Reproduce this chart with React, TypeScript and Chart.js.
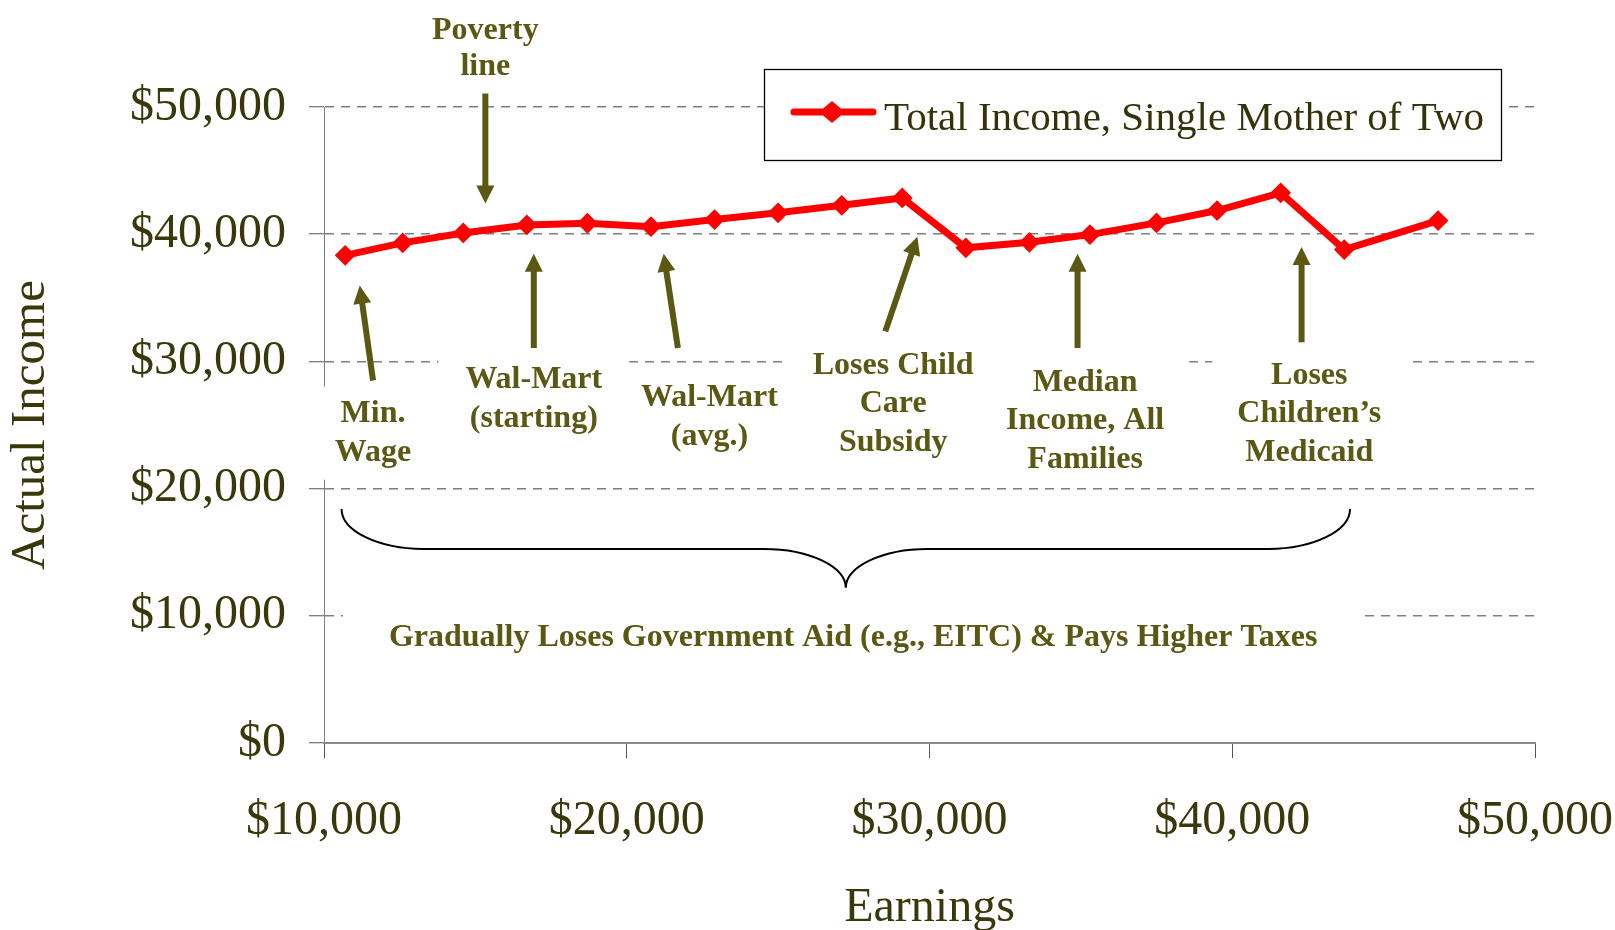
import React, { useEffect, useRef } from "react";
import { Chart, registerables } from "chart.js";

Chart.register(...registerables);

// ---------- data ----------
const earnings = [10700, 12600, 14600, 16700, 18700, 20800, 22900, 25000, 27100, 29100, 31200, 33300, 35300, 37500, 39500, 41600, 43700, 46800];
const totalIncome = [38340, 39320, 40100, 40730, 40860, 40590, 41150, 41680, 42270, 42850, 38930, 39360, 39970, 40890, 41860, 43250, 38790, 41070];
const seriesLabel = "Total Income, Single Mother of Two";
const xTicks = [10000, 20000, 30000, 40000, 50000];
const yTicks = [0, 10000, 20000, 30000, 40000, 50000];
const xTitle = "Earnings";
const yTitle = "Actual Income";

// callout texts (anchor in data units: earnings, income)
const calloutLines = [
  ["Poverty", "line"],
  ["Min.", "Wage"],
  ["Wal-Mart", "(starting)"],
  ["Wal-Mart", "(avg.)"],
  ["Loses Child", "Care", "Subsidy"],
  ["Median", "Income, All", "Families"],
  ["Loses", "Children\u2019s", "Medicaid"],
  ["Gradually Loses Government Aid (e.g., EITC) & Pays Higher Taxes"],
];
const calloutX = [15330, 11620, 16930, 22730, 28800, 35140, 42545, 27480];
const calloutY = [56030, 25870, 28520, 27130, 29670, 28360, 28890, 8300];
const calloutBox = [false, true, true, true, true, true, true, true];
const calloutPad = [0, 25, 27, 25, 25, 25, 25, 46];

// arrows: tail -> tip, data units
const arrowFromX = [15330, 11620, 16930, 21690, 28540, 34890, 42290];
const arrowFromY = [51060, 28500, 31050, 31050, 32360, 31050, 31500];
const arrowToX = [15330, 11180, 16930, 21220, 29600, 34890, 42290];
const arrowToY = [42410, 35960, 38470, 38470, 39790, 38470, 39000];

// brace (data units)
const braceFromX = 10580;
const braceToX = 43890;
const braceTopY = 18400;
const braceMidY = 15260;
const braceTipY = 12200;
const braceBend = 2700;

// ---------- style ----------
const SERIF = "'Liberation Serif', 'Times New Roman', serif";
const TICK_COLOR = "#38380a";
const NOTE_COLOR = "#5a5812";
const LINE_H = 38.5;

const fmt = (v: number) => "$" + Number(v).toLocaleString("en-US");

function drawArrow(ctx: CanvasRenderingContext2D, x1: number, y1: number, x2: number, y2: number) {
  const dx = x2 - x1, dy = y2 - y1;
  const len = Math.hypot(dx, dy);
  const ux = dx / len, uy = dy / len;
  const hl = 18, hw = 9;
  const bx = x2 - ux * hl, by = y2 - uy * hl;
  ctx.lineWidth = 6;
  ctx.lineCap = "butt";
  ctx.beginPath();
  ctx.moveTo(x1, y1);
  ctx.lineTo(bx + ux, by + uy);
  ctx.stroke();
  ctx.beginPath();
  ctx.moveTo(x2, y2);
  ctx.lineTo(bx - uy * hw, by + ux * hw);
  ctx.lineTo(bx + uy * hw, by - ux * hw);
  ctx.closePath();
  ctx.fill();
}

const annotPlugin = {
  id: "annotations",
  beforeDatasetsDraw(chart: any) {
    const { ctx, scales, chartArea } = chart;
    const xs = scales.x, ys = scales.y;
    ctx.save();
    ctx.font = `bold 32px ${SERIF}`;
    ctx.fillStyle = "#ffffff";
    calloutLines.forEach((lines, i) => {
      if (!calloutBox[i]) return;
      const cx = xs.getPixelForValue(calloutX[i]);
      const cy = ys.getPixelForValue(calloutY[i]);
      const w = Math.max(...lines.map((l) => ctx.measureText(l).width));
      const pad = calloutPad[i];
      ctx.fillRect(cx - w / 2 - pad, cy - LINE_H / 2 - 8, w + 2 * pad, lines.length * LINE_H + 16);
    });
    // legend box
    const lx = chartArea.right - 771;
    const ly = chartArea.top - 38;
    ctx.fillRect(lx, ly, 737, 91);
    ctx.strokeStyle = "#000000";
    ctx.lineWidth = 1.3;
    ctx.strokeRect(lx + 0.5, ly + 0.5, 737, 91);
    ctx.restore();
  },
  afterDatasetsDraw(chart: any) {
    const { ctx, scales, chartArea } = chart;
    const xs = scales.x, ys = scales.y;
    ctx.save();
    // callout text
    ctx.font = `bold 32px ${SERIF}`;
    ctx.fillStyle = NOTE_COLOR;
    ctx.textAlign = "center";
    ctx.textBaseline = "middle";
    calloutLines.forEach((lines, i) => {
      const cx = xs.getPixelForValue(calloutX[i]);
      const cy = ys.getPixelForValue(calloutY[i]);
      const lh = i === 0 ? 36.7 : LINE_H;
      lines.forEach((l, j) => ctx.fillText(l, cx, cy + j * lh));
    });
    // arrows
    ctx.strokeStyle = NOTE_COLOR;
    arrowFromX.forEach((_, i) => {
      drawArrow(
        ctx,
        xs.getPixelForValue(arrowFromX[i]),
        ys.getPixelForValue(arrowFromY[i]),
        xs.getPixelForValue(arrowToX[i]),
        ys.getPixelForValue(arrowToY[i])
      );
    });
    // brace
    const x0 = xs.getPixelForValue(braceFromX);
    const x1 = xs.getPixelForValue(braceToX);
    const xm = (x0 + x1) / 2;
    const bend = xs.getPixelForValue(10000 + braceBend) - xs.getPixelForValue(10000);
    const yT = ys.getPixelForValue(braceTopY);
    const yM = ys.getPixelForValue(braceMidY);
    const yP = ys.getPixelForValue(braceTipY);
    const k = 0.55;
    ctx.strokeStyle = "#000000";
    ctx.lineWidth = 2;
    ctx.beginPath();
    ctx.moveTo(x0, yT);
    ctx.bezierCurveTo(x0, yT + (yM - yT) * k, x0 + bend - bend * k, yM, x0 + bend, yM);
    ctx.lineTo(xm - bend, yM);
    ctx.bezierCurveTo(xm - bend + bend * k, yM, xm, yP - (yP - yM) * k, xm, yP);
    ctx.bezierCurveTo(xm, yP - (yP - yM) * k, xm + bend - bend * k, yM, xm + bend, yM);
    ctx.lineTo(x1 - bend, yM);
    ctx.bezierCurveTo(x1 - bend + bend * k, yM, x1, yT + (yM - yT) * k, x1, yT);
    ctx.stroke();
    // legend content
    const lx = chartArea.right - 771;
    const ly = chartArea.top - 38;
    const sy = ly + 43;
    ctx.strokeStyle = "#ff0000";
    ctx.fillStyle = "#ff0000";
    ctx.lineWidth = 7;
    ctx.lineCap = "round";
    ctx.beginPath();
    ctx.moveTo(lx + 30, sy);
    ctx.lineTo(lx + 109, sy);
    ctx.stroke();
    const dcx = lx + 68;
    ctx.beginPath();
    ctx.moveTo(dcx - 13, sy);
    ctx.lineTo(dcx, sy - 11);
    ctx.lineTo(dcx + 13, sy);
    ctx.lineTo(dcx, sy + 11);
    ctx.closePath();
    ctx.fill();
    ctx.font = `41px ${SERIF}`;
    ctx.fillStyle = "#33330a";
    ctx.textAlign = "left";
    ctx.textBaseline = "alphabetic";
    ctx.fillText(chart.data.datasets[0].label, lx + 120, ly + 61);
    ctx.restore();
  },
};

export default function App() {
  const ref = useRef<HTMLCanvasElement | null>(null);
  useEffect(() => {
    document.body.style.margin = "0";
    const canvas = ref.current;
    if (!canvas) return;
    const chart = new Chart(canvas, {
      type: "line",
      data: {
        datasets: [
          {
            label: seriesLabel,
            data: earnings.map((e, i) => ({ x: e, y: totalIncome[i] })),
            borderColor: "#ff0000",
            backgroundColor: "#ff0000",
            borderWidth: 7,
            pointStyle: "rectRot",
            pointRadius: 9,
            pointBorderWidth: 2,
            pointBackgroundColor: "#ff0000",
            pointBorderColor: "#ff0000",
            tension: 0,
          } as any,
        ],
      },
      options: {
        responsive: false,
        animation: false,
        events: [],
        layout: { padding: { top: 107, right: 80, left: 0, bottom: 0 } },
        plugins: { legend: { display: false }, tooltip: { enabled: false } },
        scales: {
          x: {
            type: "linear",
            min: 10000,
            max: 50000,
            afterBuildTicks: (s: any) => {
              s.ticks = xTicks.map((v) => ({ value: v }));
            },
            afterFit: (s: any) => {
              s.height = 187;
            },
            grid: { drawOnChartArea: false, drawTicks: true, tickLength: 15, color: "#555555", lineWidth: 1 },
            border: { display: true, color: "#8a8a8a", width: 2 },
            ticks: {
              callback: (v: any) => fmt(v),
              font: { family: SERIF, size: 48, lineHeight: 2.61 },
              color: TICK_COLOR,
              padding: 1,
              maxRotation: 0,
              autoSkip: false,
            },
            title: {
              display: true,
              text: xTitle,
              font: { family: SERIF, size: 48, lineHeight: 1 },
              color: TICK_COLOR,
              padding: { top: 0, bottom: -2 },
            },
          },
          y: {
            type: "linear",
            min: 0,
            max: 50000,
            afterBuildTicks: (s: any) => {
              s.ticks = yTicks.map((v) => ({ value: v }));
            },
            afterFit: (s: any) => {
              s.width = 324;
            },
            grid: {
              color: (c: any) => (c.tick && c.tick.value === 0 ? "rgba(0,0,0,0)" : "#7f7f7f"),
              lineWidth: 1.5,
              tickLength: 15,
              tickColor: "#555555",
              tickWidth: 1,
            },
            border: { display: true, color: "#808080", width: 1, dash: [9, 7] },
            ticks: {
              callback: (v: any) => fmt(v),
              font: { family: SERIF, size: 48 },
              color: TICK_COLOR,
              padding: 23,
              autoSkip: false,
            },
            title: {
              display: true,
              text: yTitle,
              font: { family: SERIF, size: 49, lineHeight: 1 },
              color: TICK_COLOR,
              padding: { top: 7, bottom: 0 },
            },
          },
        },
      } as any,
      plugins: [annotPlugin],
    });
    return () => chart.destroy();
  }, []);
  return (
    <div style={{ width: 1615, height: 930 }}>
      <canvas ref={ref} width={1615} height={930} style={{ display: "block" }} />
    </div>
  );
}
